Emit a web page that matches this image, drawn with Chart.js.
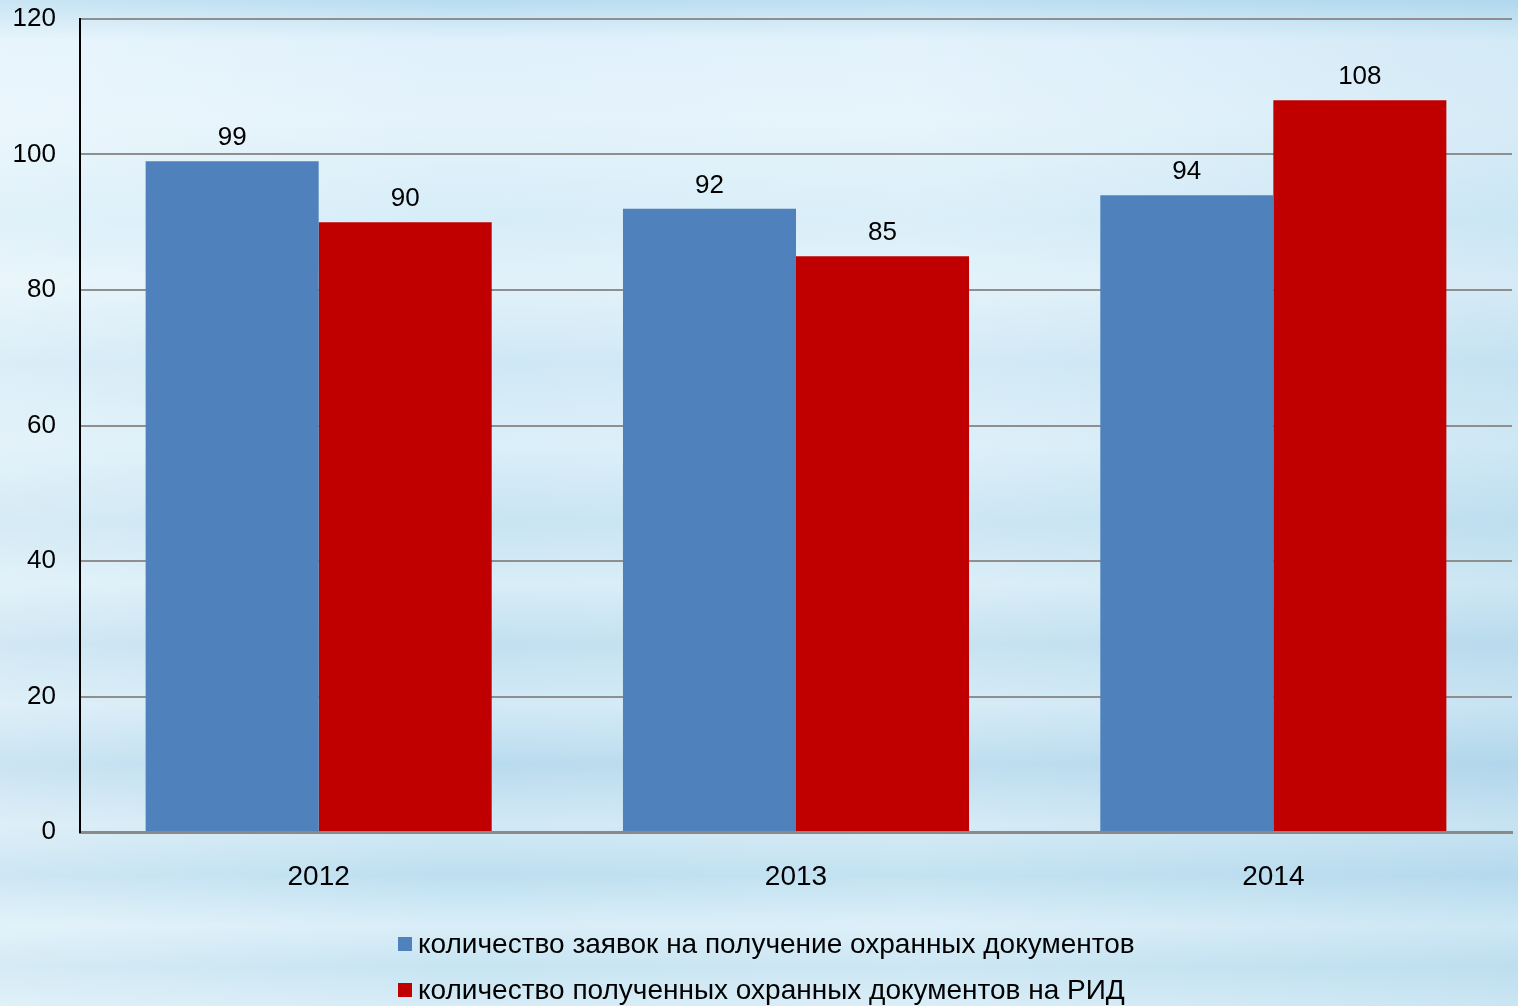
<!DOCTYPE html>
<html>
<head>
<meta charset="utf-8">
<script src="https://cdn.jsdelivr.net/npm/chart.js@4"></script>
<style>
  html, body { margin: 0; padding: 0; }
  body {
    width: 1518px; height: 1006px; overflow: hidden;
    background:
      linear-gradient(90deg, rgba(255,255,255,0.25) 0%, rgba(255,255,255,0) 30%, rgba(255,255,255,0.1) 60%, rgba(120,180,215,0.12) 100%),
      linear-gradient(180deg, #b7dcf0 0%, #e0f1fb 4%, #e4f3fb 12%, #d6edf8 22%, #e2f2fa 28%, #cfe8f5 36%, #dbeff9 44%, #c8e4f2 52%, #d8edf7 58%, #c2e0f0 64%, #d3eaf6 70%, #b9dbee 76%, #d2e9f5 82%, #bddff0 87%, #d9eef8 92%, #c7e4f2 96%, #d6ecf7 100%);
  }
  #wrap { position: absolute; left: 0; top: 0; width: 1518px; height: 1006px; }
</style>
</head>
<body>
<div id="wrap"><canvas id="chart"></canvas></div>
<script>
// Chart data
var years = ['2012', '2013', '2014'];
var applications = [99, 92, 94];
var received = [90, 85, 108];
var seriesNames = [
    'количество заявок на получение охранных документов',
    'количество полученных охранных документов на РИД'
];
var seriesColors = ['#4f81bd', '#c00000'];

var FONT = '"Liberation Sans", Arial, sans-serif';

// value labels above bars + two-line legend at the bottom
var extrasPlugin = {
    id: 'extras',
    afterDatasetsDraw: function(chart) {
        var ctx = chart.ctx;
        ctx.save();
        ctx.fillStyle = '#000';
        ctx.font = '26px ' + FONT;
        ctx.textAlign = 'center';
        ctx.textBaseline = 'alphabetic';
        chart.data.datasets.forEach(function(ds, i) {
            chart.getDatasetMeta(i).data.forEach(function(bar, j) {
                ctx.fillText(ds.data[j], bar.x, bar.y - 16);
            });
        });
        ctx.restore();
    },
    afterDraw: function(chart) {
        var ctx = chart.ctx;
        ctx.save();
        ctx.font = '28px ' + FONT;
        ctx.textBaseline = 'middle';
        ctx.textAlign = 'left';
        var rows = [944, 990];
        seriesNames.forEach(function(name, i) {
            ctx.fillStyle = seriesColors[i];
            ctx.fillRect(398, rows[i] - 7, 14, 14);
            ctx.fillStyle = '#000';
            ctx.fillText(name, 418, rows[i] + 1);
        });
        ctx.restore();
    }
};

var ctx = document.getElementById('chart').getContext('2d');
var chart = new Chart(ctx, {
    type: 'bar',
    data: {
        labels: years,
        datasets: [
            { label: seriesNames[0], data: applications, backgroundColor: seriesColors[0] },
            { label: seriesNames[1], data: received, backgroundColor: seriesColors[1] }
        ]
    },
    options: {
        responsive: true,
        maintainAspectRatio: false,
        animation: false,
        categoryPercentage: 0.725,
        barPercentage: 1.0,
        layout: { padding: { top: 19, right: 6, bottom: 104, left: 0 } },
        plugins: {
            legend: { display: false },
            tooltip: { enabled: false }
        },
        scales: {
            x: {
                grid: { display: false },
                border: { display: true, color: '#8a8a8a', width: 3 },
                ticks: { color: '#000', font: { family: FONT, size: 28 }, padding: 20 },
                afterFit: function(scale) { scale.height = 70; }
            },
            y: {
                min: 0,
                max: 120,
                ticks: { stepSize: 20, color: '#000', font: { family: FONT, size: 26 }, padding: 0 },
                grid: { color: '#8f8f8f', lineWidth: 2, drawTicks: true, tickLength: 24, tickColor: 'rgba(0,0,0,0)' },
                border: { display: true, color: '#000', width: 2 },
                afterFit: function(scale) { scale.width = 80; }
            }
        }
    },
    plugins: [extrasPlugin]
});
</script>
</body>
</html>
